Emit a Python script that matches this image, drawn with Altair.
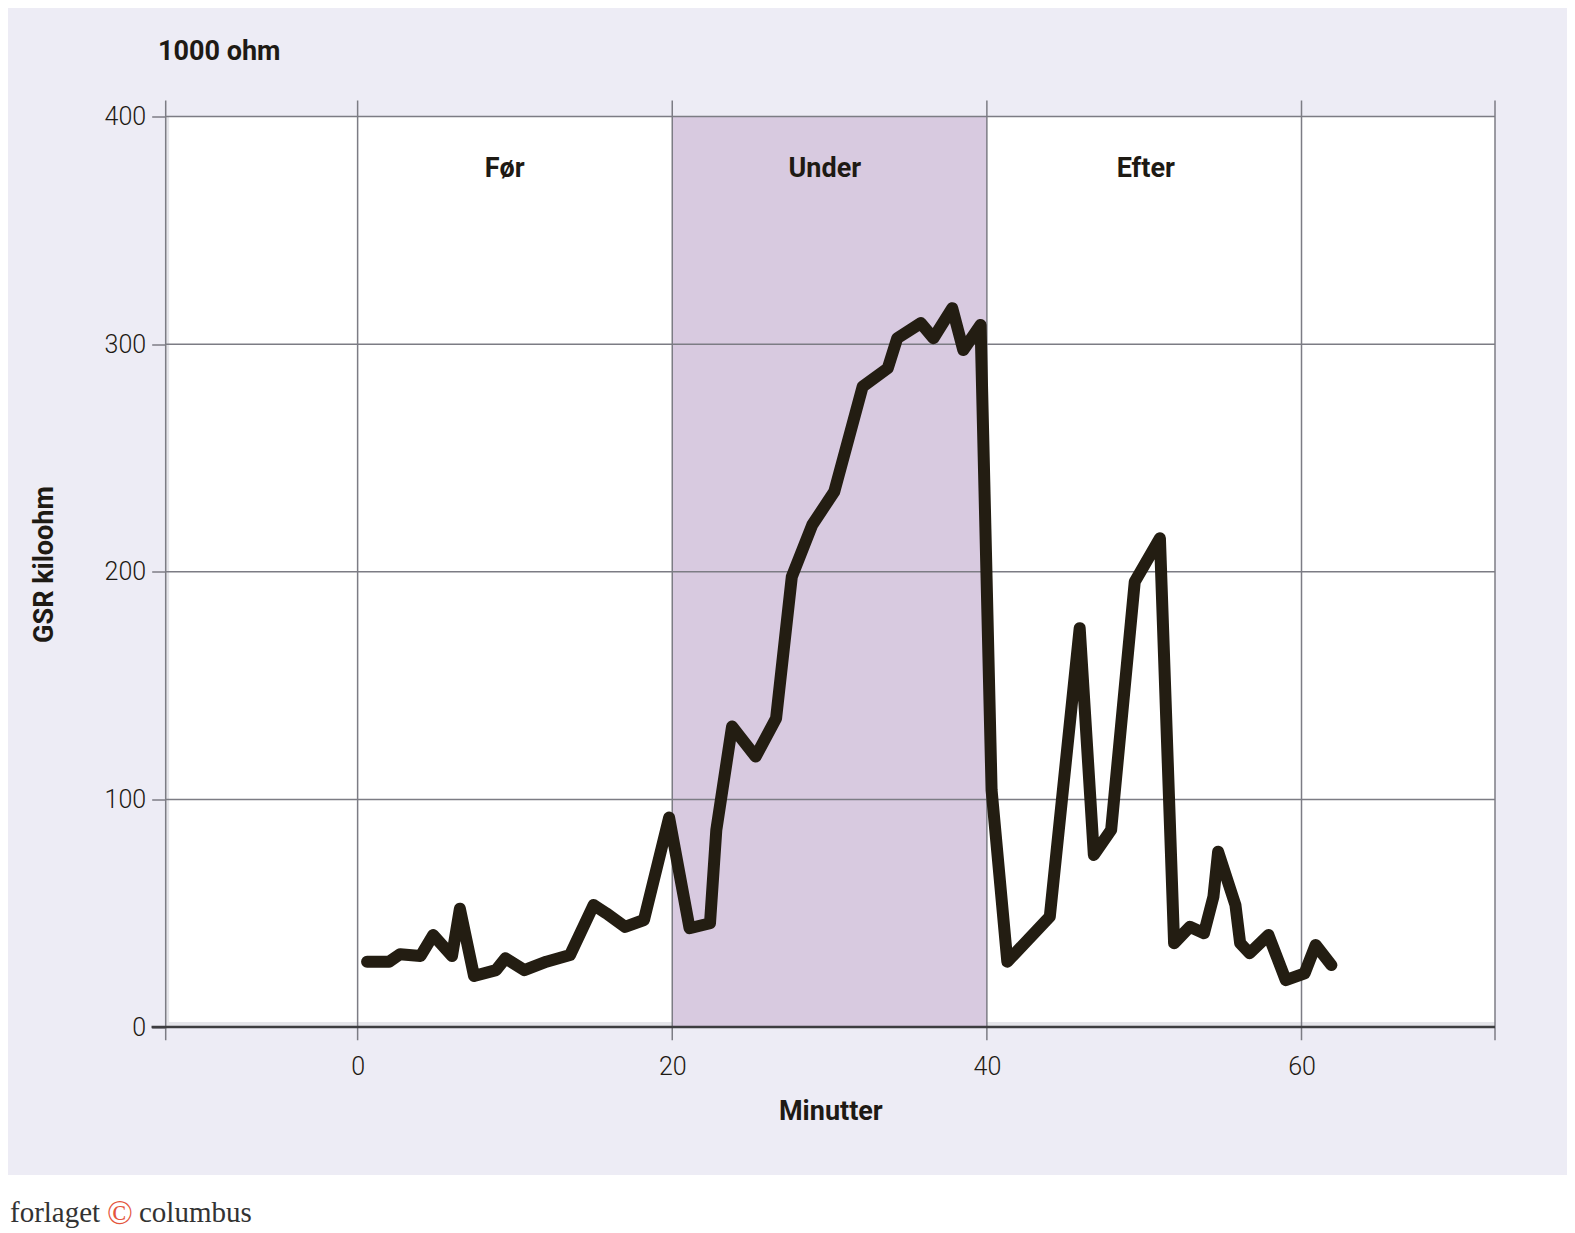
import altair as alt
import pandas as pd

# ---- data ----
minutes = [0.6, 2.0, 2.7, 4.0, 4.8, 6.0, 6.5, 7.4, 8.8, 9.4,
           10.6, 12.0, 13.5, 15.0, 15.8, 17.0, 18.2, 19.8, 21.1, 22.4,
           22.8, 23.8, 25.3, 26.6, 27.6, 28.9, 30.3, 32.1, 33.7, 34.3,
           35.8, 36.6, 37.8, 38.5, 39.6, 40.3, 41.3, 44.0, 45.9, 46.8,
           47.9, 49.4, 51.0, 51.9, 52.9, 53.8, 54.4, 54.7, 55.8, 56.1,
           56.7, 57.9, 59.0, 60.2, 60.9, 61.9]
gsr = [28.7, 28.7, 32.0, 31.2, 40.4, 31.2, 52.0, 22.4, 25.0, 30.2,
       25.0, 28.7, 31.6, 53.6, 50.0, 44.0, 47.0, 92.0, 43.4, 45.6,
       86.5, 132.0, 118.8, 135.6, 197.8, 220.6, 235.2, 281.3, 289.4, 302.6,
       309.2, 302.6, 315.8, 297.4, 308.4, 104.0, 28.7, 48.5, 175.2, 75.6,
       86.6, 195.6, 214.7, 36.8, 44.0, 41.2, 57.2, 77.0, 53.6, 36.8,
       32.4, 40.4, 20.6, 23.6, 36.0, 27.2]

x_domain = [-12.2, 72.3]
y_domain = [0, 400]
x_ticks = [-12.2, 0, 20, 40, 60, 72.3]
y_ticks = [0, 100, 200, 300, 400]

phase_labels = ["Før", "Under", "Efter"]
phase_x = [9.35, 29.7, 50.1]
phase_y = [377, 377, 377]
band_start = [20]
band_end = [40]

unit_label = ["1000 ohm"]
x_title = "Minutter"
y_title = "GSR kiloohm"
footer_parts = ["forlaget", "©", "columbus"]

# ---- styles ----
FONT = "Roboto"
INK = "#1e1a14"
LINE = "#231d12"
GRID = "#7c7c84"
BAND = "#d8cae0"
BG = "#edecf5"
STRIP = "#e5e5ea"

W, H = 1329.3, 910.5

xscale = alt.Scale(domain=x_domain, nice=False, zero=False)
yscale = alt.Scale(domain=y_domain, nice=False, zero=False)

x_axis = alt.Axis(values=x_ticks, labelExpr="datum.value % 20 == 0 ? datum.label : ''",
                  title=x_title, grid=False, ticks=False, domain=False,
                  labelFont=FONT, labelFontSize=25, labelFontWeight=300, labelColor=INK,
                  labelPadding=27,
                  titleFont=FONT, titleFontSize=27, titleFontWeight="bold", titleColor=INK,
                  titleY=84, titleBaseline="middle")
y_axis = alt.Axis(values=y_ticks, title=y_title, grid=False, domain=False,
                  ticks=True, tickSize=14, tickColor=GRID, tickWidth=1.5,
                  labelFont=FONT, labelFontSize=25, labelFontWeight=300, labelColor=INK,
                  labelPadding=6,
                  titleFont=FONT, titleFontSize=27, titleFontWeight="bold", titleColor=INK,
                  titleAngle=270, titleX=-121, titleY=447.5,
                  titleAlign="center", titleBaseline="middle")


def X(field):
    return alt.X(field, type="quantitative", scale=xscale, axis=x_axis)


def Y(field):
    return alt.Y(field, type="quantitative", scale=yscale, axis=y_axis)


line_df = pd.DataFrame({"minutes": minutes, "gsr": gsr})
band_df = pd.DataFrame({"x0": band_start, "x1": band_end, "y0": [y_domain[0]], "y1": [y_domain[1]]})
strip_df = pd.DataFrame({"x0": [x_domain[0], x_domain[0]], "x1": [x_domain[1], x_domain[0] + 0.22],
                         "y0": [0, 0], "y1": [2.2, 400]})
hgrid_df = pd.DataFrame({"y": y_ticks[1:], "x0": x_domain[0], "x1": x_domain[1]})
vgrid_df = pd.DataFrame({"x": x_ticks, "y0": -5.8, "y1": 407.0})
base_df = pd.DataFrame({"y": [0], "x0": [-13.1], "x1": [x_domain[1]]})
phase_df = pd.DataFrame({"label": phase_labels, "x": phase_x, "y": phase_y})

strips = alt.Chart(strip_df).mark_rect(color=STRIP).encode(
    x=X("x0"), x2="x1", y=Y("y0"), y2="y1")
band = alt.Chart(band_df).mark_rect(color=BAND).encode(
    x=X("x0"), x2="x1", y=Y("y0"), y2="y1")
hgrid = alt.Chart(hgrid_df).mark_rule(color=GRID, strokeWidth=1.5).encode(
    y=Y("y"), x=X("x0"), x2="x1")
vgrid = alt.Chart(vgrid_df).mark_rule(color=GRID, strokeWidth=1.5).encode(
    x=X("x"), y=Y("y0"), y2="y1")
baseline = alt.Chart(base_df).mark_rule(color="#3d3d40", strokeWidth=2.7).encode(
    y=Y("y"), x=X("x0"), x2="x1")
line = alt.Chart(line_df).mark_line(color=LINE, strokeWidth=12, strokeCap="round",
                                    strokeJoin="round").encode(
    x=X("minutes"), y=Y("gsr"))
phases = alt.Chart(phase_df).mark_text(font=FONT, fontSize=27, fontWeight="bold",
                                       color=INK, align="center", baseline="middle").encode(
    x=X("x"), y=Y("y"), text="label:N")
unit = alt.Chart(pd.DataFrame({"t": unit_label})).mark_text(
    font=FONT, fontSize=27, fontWeight="bold", color=INK, align="left", baseline="middle").encode(
    x=alt.value(-7.7), y=alt.value(-64.5), text="t:N")

footer_bg = alt.Chart(pd.DataFrame({"a": [0]})).mark_rect(color="white").encode(
    x=alt.value(-170), x2=alt.value(1420), y=alt.value(1058.5), y2=alt.value(1130))
foot1 = alt.Chart(pd.DataFrame({"t": [footer_parts[0]]})).mark_text(
    font="Liberation Serif", fontSize=29, color="#333333", align="left", baseline="alphabetic").encode(
    x=alt.value(-155.7), y=alt.value(1105), text="t:N")
foot2 = alt.Chart(pd.DataFrame({"t": [footer_parts[1]]})).mark_text(
    font="Liberation Serif", fontSize=34, color="#e4553c", align="center", baseline="alphabetic").encode(
    x=alt.value(120 - 165.7), y=alt.value(1107), text="t:N")
foot3 = alt.Chart(pd.DataFrame({"t": [footer_parts[2]]})).mark_text(
    font="Liberation Serif", fontSize=29, color="#333333", align="left", baseline="alphabetic").encode(
    x=alt.value(139 - 165.7), y=alt.value(1105), text="t:N")

chart = alt.layer(
    strips, band, hgrid, vgrid, baseline, line, phases, unit, footer_bg, foot1, foot2, foot3
).properties(
    width=W, height=H,
    background=BG,
    padding={"left": 157.7, "top": 108.5, "right": 72, "bottom": 206},
    autosize=alt.AutoSizeParams(type="none"),
).configure_view(stroke=None, fill="white")

chart.save("out.html", embed_options={"renderer": "svg", "actions": False})
